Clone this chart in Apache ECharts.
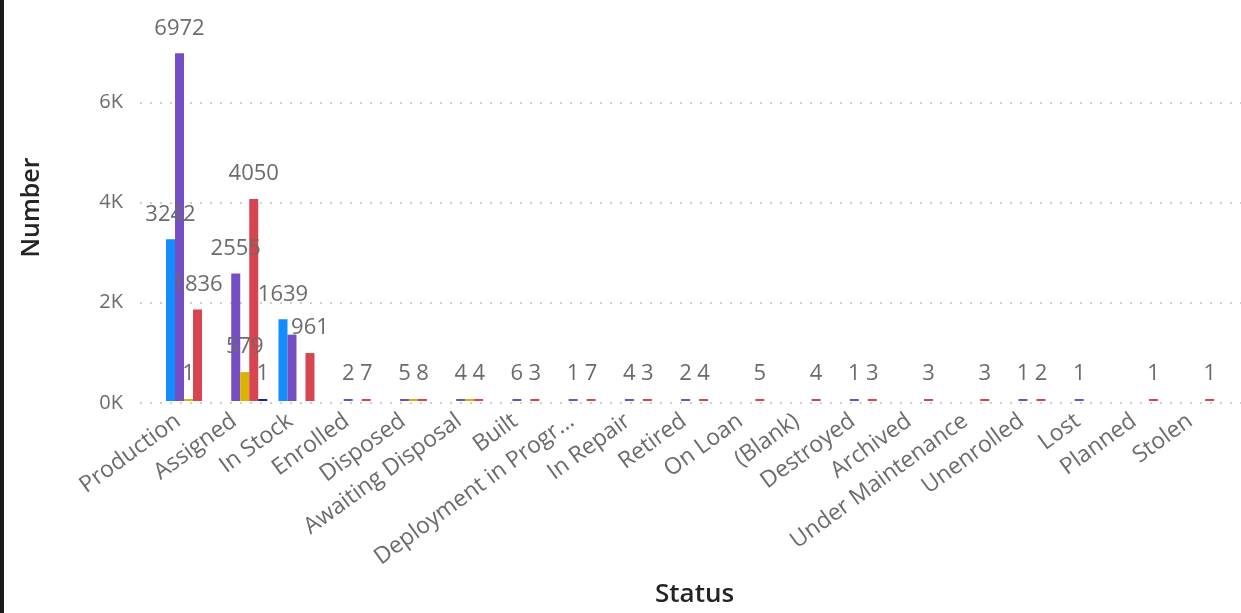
<!DOCTYPE html>
<html>
<head>
<meta charset="utf-8">
<script src="https://cdn.jsdelivr.net/npm/echarts@6/dist/echarts.min.js"></script>
<style>
  html, body { margin: 0; padding: 0; background: #fff; }
  #chart { width: 1241px; height: 613px; }
</style>
</head>
<body>
<div id="chart"></div>
<script>
// Device counts per status, one array per series
const categories = ['Production', 'Assigned', 'In Stock', 'Enrolled', 'Disposed', 'Awaiting Disposal', 'Built',
  'Deployment in Progress', 'In Repair', 'Retired', 'On Loan', '(Blank)', 'Destroyed', 'Archived',
  'Under Maintenance', 'Unenrolled', 'Lost', 'Planned', 'Stolen'];

const blueValues   = [3242, null, 1639, null, null, null, null, null, null, null, null, null, null, null, null, null, null, null, null];
const purpleValues = [6972, 2555, 1330, 2, 5, 4, 6, 1, 4, 2, null, null, 1, null, null, 1, 1, null, null];
const yellowValues = [1, 579, null, null, 1, 1, null, null, null, null, null, null, null, null, null, null, null, null, null];
const redValues    = [1836, 4050, 961, 7, 8, 4, 3, 7, 3, 4, 5, 4, 3, 3, 3, 2, null, 1, 1];
const navyValues   = [null, 1, null, null, null, null, null, null, null, null, null, null, null, null, null, null, null, null, null];

// Category indexes whose value label is suppressed (crowded clusters)
const purpleHiddenLabels = [2];
const yellowHiddenLabels = [4, 5];

const yTickLabels = ['0K', '2K', '4K', '6K'];
const yInterval = 2000;
const maxLabelChars = 19;

const FONT = '"Open Sans", "Noto Sans", sans-serif';
const LABEL_GREY = '#6b6b6b';

function buildData(values, hidden) {
  return values.map((v, i) => {
    if (v === null) return null;
    if (hidden && hidden.indexOf(i) >= 0) return { value: v, label: { show: false } };
    return v;
  });
}

function barSeries(name, color, values, hidden) {
  return {
    name: name,
    type: 'bar',
    xAxisIndex: 1,
    yAxisIndex: 1,
    barWidth: 9,
    barGap: '0%',
    barMinHeight: 2,
    itemStyle: { color: color },
    label: {
      show: true,
      position: 'top',
      distance: 14,
      color: LABEL_GREY,
      fontSize: 22,
      fontFamily: FONT
    },
    emphasis: { disabled: true },
    data: buildData(values, hidden)
  };
}

const chart = echarts.init(document.getElementById('chart'), null, { renderer: 'canvas' });

chart.setOption({
  animation: false,
  backgroundColor: '#ffffff',
  grid: [
    // frame for the value axis and its dotted gridlines
    { left: 140, right: 0, top: 2, bottom: 210 },
    // inner band holding the clustered columns
    { left: 160.4, width: 1068.4, top: 2, bottom: 210 }
  ],
  xAxis: [
    { type: 'value', gridIndex: 0, show: false, min: 0, max: 1 },
    {
      type: 'category',
      gridIndex: 1,
      data: categories,
      axisLine: { show: false },
      axisTick: { show: false },
      axisLabel: {
        interval: 0,
        rotate: 36,
        margin: 10,
        padding: [0, 13, 0, 0],
        color: LABEL_GREY,
        fontSize: 23,
        fontFamily: FONT,
        formatter: s => s.length > maxLabelChars ? s.slice(0, maxLabelChars) + '...' : s
      },
      name: 'Status',
      nameLocation: 'middle',
      nameGap: 181,
      nameTextStyle: { color: '#252423', fontSize: 26, fontWeight: 600, fontFamily: FONT }
    }
  ],
  yAxis: [
    {
      type: 'value',
      gridIndex: 0,
      min: 0,
      max: 8000,
      interval: yInterval,
      axisLine: { show: false },
      axisTick: { show: false },
      axisLabel: {
        margin: 17,
        showMaxLabel: false,
        color: LABEL_GREY,
        fontSize: 20,
        fontFamily: FONT,
        formatter: v => yTickLabels[Math.round(v / yInterval)] || ''
      },
      splitLine: {
        show: true,
        showMaxLine: false,
        lineStyle: { color: '#cfcfcf', width: 2, type: [2, 8] }
      },
      name: 'Number',
      nameLocation: 'middle',
      nameGap: 96,
      nameTextStyle: { color: '#252423', fontSize: 25, fontWeight: 600, fontFamily: FONT, padding: [0, 10, 0, 0] }
    },
    { type: 'value', gridIndex: 1, min: 0, max: 8000, show: false }
  ],
  graphic: [
    { type: 'rect', left: 0, top: 0, shape: { width: 4, height: 613 }, style: { fill: '#1a1a1a' }, silent: true }
  ],
  series: [
    barSeries('Blue', '#118DFF', blueValues),
    barSeries('Purple', '#744EC2', purpleValues, purpleHiddenLabels),
    barSeries('Yellow', '#D9B300', yellowValues, yellowHiddenLabels),
    barSeries('Red', '#D64550', redValues),
    barSeries('Navy', '#12239E', navyValues)
  ]
});
</script>
</body>
</html>
